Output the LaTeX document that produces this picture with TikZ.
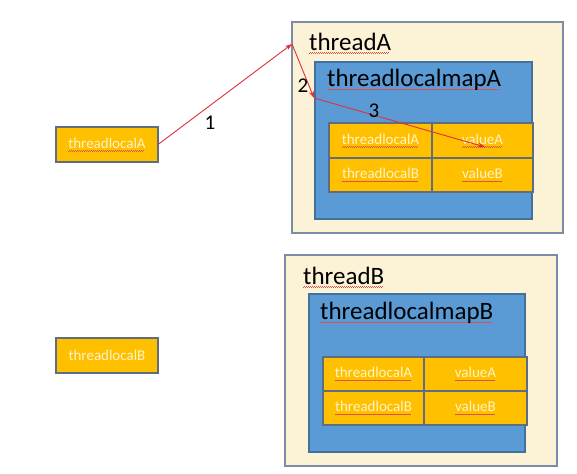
\documentclass[tikz,border=0pt]{standalone}
\usepackage{fontspec}
\setmainfont{Carlito}
\usetikzlibrary{arrows.meta}
\definecolor{cream}{HTML}{FCF3D6}
\definecolor{creamb}{HTML}{7A8CA8}
\definecolor{mapblue}{HTML}{5B9BD5}
\definecolor{mapb}{HTML}{41719C}
\definecolor{gold}{HTML}{FFC000}
\definecolor{goldb}{HTML}{5E6E80}
\definecolor{celltext}{HTML}{FFF3C8}
\definecolor{arrowred}{HTML}{E0303A}
\definecolor{spellred}{HTML}{E05050}
\newsavebox\spellbox
\newcommand\spellul[1]{\sbox\spellbox{#1}\leavevmode\rlap{\raisebox{-3pt}{\color{spellred}\leaders\hbox{\rule{1pt}{0.4pt}\raisebox{0.5pt}{\rule{1pt}{0.4pt}}}\hskip\wd\spellbox}}\usebox\spellbox}
\begin{document}
\begin{tikzpicture}[x=1pt,y=-1pt,
  box/.style={inner sep=0pt, outer sep=0pt, anchor=north west},
  thread/.style={box, fill=cream, draw=creamb, line width=1.5pt},
  mapbox/.style={box, fill=mapblue, draw=mapb, line width=1.2pt},
  cell/.style={box, fill=gold, draw=goldb, line width=1.2pt, font=\fontsize{15}{15}\selectfont, text=celltext, align=center},
  title/.style={inner sep=0pt, anchor=west, font=\fontsize{25}{25}\selectfont, text=black},
  num/.style={inner sep=0pt, font=\fontsize{21}{21}\selectfont, text=black},
  redarrow/.style={draw=arrowred, line width=0.9pt, -{Stealth[length=7pt,width=5pt]}}
]
\useasboundingbox (0,0) rectangle (577,473);
\fill[white] (0,0) rectangle (577,473);

% thread A
\node[thread, minimum width=271, minimum height=211] (tA) at (292,22) {};
\node[mapbox, minimum width=217, minimum height=157] (mA) at (315,62) {};
\node[cell, minimum width=103, minimum height=35] (a11) at (329,123) {\spellul{threadlocalA}};
\node[cell, minimum width=101, minimum height=35] (a12) at (432,123) {\spellul{valueA}};
\node[cell, minimum width=103, minimum height=34] (a21) at (329,158) {\spellul{threadlocalB}};
\node[cell, minimum width=101, minimum height=34] (a22) at (432,158) {\spellul{valueB}};
\node[title] (tAt) at (309,43) {\spellul{threadA}};
\node[title] (mAt) at (327,80) {\spellul{threadlocalmapA}};

% thread B
\node[thread, minimum width=272, minimum height=211] (tB) at (285,255) {};
\node[mapbox, minimum width=216, minimum height=158] (mB) at (309,294) {};
\node[cell, minimum width=101, minimum height=34] (b11) at (323,357) {\spellul{threadlocalA}};
\node[cell, minimum width=103, minimum height=34] (b12) at (424,357) {\spellul{valueA}};
\node[cell, minimum width=101, minimum height=34] (b21) at (323,391) {\spellul{threadlocalB}};
\node[cell, minimum width=103, minimum height=34] (b22) at (424,391) {\spellul{valueB}};
\node[title] (tBt) at (303,277) {\spellul{threadB}};
\node[title] (mBt) at (320,313) {\spellul{threadlocalmapB}};

% standalone thread locals
\node[cell, minimum width=102, minimum height=35] (tlA) at (56,127) {\spellul{threadlocalA}};
\node[cell, minimum width=102, minimum height=35] (tlB) at (56,338) {threadlocalB};

% arrows
\coordinate (p1) at (292,44);
\coordinate (p2) at (314,98);
\coordinate (p3) at (485,147);
\draw[redarrow] (tlA.east) -- (p1);
\draw[redarrow] (p1) -- (p2);
\draw[redarrow] (p2) -- (p3);
\node[num] (n1) at (210,123) {1};
\node[num] (n2) at (303,86) {2};
\node[num] (n3) at (374,111) {3};
\end{tikzpicture}
\end{document}
